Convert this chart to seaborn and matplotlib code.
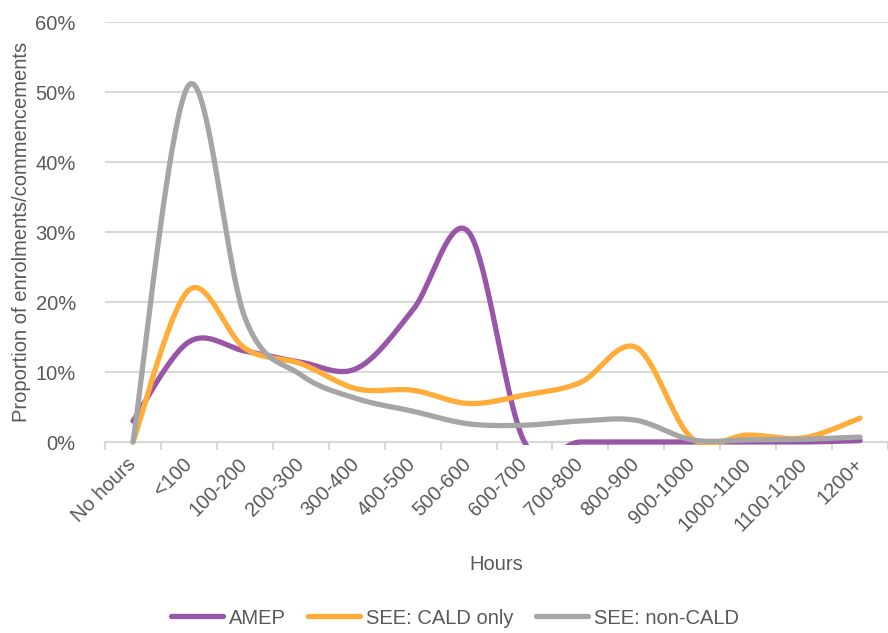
import numpy as np
import pandas as pd
import matplotlib
matplotlib.use("Agg")
import matplotlib.pyplot as plt
import seaborn as sns
from matplotlib.ticker import FuncFormatter
from matplotlib.transforms import Bbox, TransformedBbox

# ---- data (percent) ----
categories = ["No hours", "<100", "100-200", "200-300", "300-400", "400-500", "500-600",
              "600-700", "700-800", "800-900", "900-1000", "1000-1100", "1100-1200", "1200+"]
amep = [3.0, 14.3, 13.0, 11.4, 10.5, 18.8, 30.0, 0.0, 0.0, 0.0, 0.0, 0.0, 0.0, 0.2]
see_cald = [0.0, 21.7, 13.4, 11.2, 7.6, 7.4, 5.5, 6.7, 8.5, 13.5, 0.5, 1.0, 0.6, 3.4]
see_noncald = [0.0, 51.0, 17.8, 9.6, 6.2, 4.4, 2.6, 2.4, 3.0, 3.1, 0.3, 0.3, 0.4, 0.7]
series_names = ["AMEP", "SEE: CALD only", "SEE: non-CALD"]
colors = ["#9955A8", "#FFAD38", "#A5A5A5"]

TXT = "#595959"
GRID = "#D9D9D9"
FS = 14.5

sns.set_theme(style="white")
plt.rcParams["font.family"] = ["Liberation Sans Narrow", "Liberation Sans", "DejaVu Sans"]


def smooth_curve(ys, n=40):
    """Excel-style smoothed line (cubic Bezier through the points)."""
    P = np.column_stack([np.arange(len(ys), dtype=float), np.asarray(ys, dtype=float)])
    out = []
    m = len(P)
    for i in range(m - 1):
        p0 = P[i - 1] if i > 0 else P[i]
        p1, p2 = P[i], P[i + 1]
        p3 = P[i + 2] if i + 2 < m else P[i + 1]
        c1 = p1 + (p2 - p0) / 6.0
        c2 = p2 - (p3 - p1) / 6.0
        t = np.linspace(0, 1, n, endpoint=(i == m - 2))[:, None]
        b = ((1 - t) ** 3) * p1 + 3 * ((1 - t) ** 2) * t * c1 + 3 * (1 - t) * t ** 2 * c2 + t ** 3 * p2
        out.append(b)
    return np.vstack(out)


frames = []
for name, vals in zip(series_names, [amep, see_cald, see_noncald]):
    c = smooth_curve(vals)
    frames.append(pd.DataFrame({"x": c[:, 0], "y": c[:, 1], "series": name}))
df = pd.concat(frames, ignore_index=True)

fig = plt.figure(figsize=(8.88, 6.33), dpi=100)
ax = fig.add_axes([105 / 888, 1 - 442 / 633, 783 / 888, 420 / 633])

sns.lineplot(data=df, x="x", y="y", hue="series", hue_order=series_names,
             palette=colors, sort=False, estimator=None, units="series",
             linewidth=3.8, solid_capstyle="round", ax=ax, legend=True, zorder=3)

# clip a few pixels below the axis, like the original
clipbox = TransformedBbox(Bbox([[0, -0.008], [1, 1.01]]), ax.transAxes)
for ln in ax.get_lines():
    ln.set_clip_box(clipbox)
    ln.set_zorder(3)

ax.set_xlim(-0.5, len(categories) - 0.5)
ax.set_ylim(0, 60)
ax.set_yticks(np.arange(0, 61, 10))
ax.yaxis.set_major_formatter(FuncFormatter(lambda v, p: f"{v:.0f}%"))
ax.grid(axis="y", color=GRID, linewidth=1.5)
ax.set_axisbelow(True)
for s in ["top", "right", "left"]:
    ax.spines[s].set_visible(False)
ax.spines["bottom"].set_color(GRID)
ax.spines["bottom"].set_linewidth(1.5)
ax.spines["bottom"].set_zorder(1)

ax.set_xticks(range(len(categories)))
ax.set_xticklabels(categories, rotation=45, ha="right", va="center",
                   rotation_mode="anchor", color=TXT, fontsize=FS)
ax.set_xticks(np.arange(-0.5, len(categories), 1.0), minor=True)
ax.tick_params(axis="x", which="major", length=0, pad=14)
ax.tick_params(axis="x", which="minor", length=6, width=1.5, color=GRID, direction="out", bottom=True)
ax.tick_params(axis="y", length=0, pad=21, labelcolor=TXT, labelsize=FS)
ax.set_xlabel("")
ax.set_ylabel("")

fig.text(22 / 888, 1 - 232 / 633, "Proportion of enrolments/commencements", rotation=90,
         ha="center", va="center", color=TXT, fontsize=FS)
fig.text(496 / 888, 1 - 565 / 633, "Hours", ha="center", va="center", color=TXT, fontsize=FS)

handles, labels = ax.get_legend_handles_labels()
ax.get_legend().remove()
for h in handles:
    h.set_linewidth(3.8)
    h.set_solid_capstyle("round")
leg = fig.legend(handles, labels, loc="center", bbox_to_anchor=(455 / 888, 1 - 618 / 633),
                 ncol=3, frameon=False, fontsize=FS, handlelength=2.6, handletextpad=0.3,
                 columnspacing=1.1)
for t in leg.get_texts():
    t.set_color(TXT)

fig.savefig("out.png", dpi=100)
